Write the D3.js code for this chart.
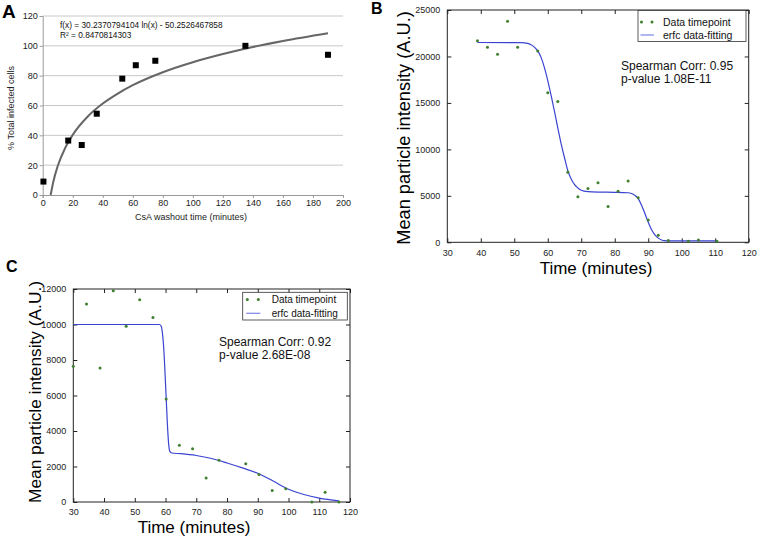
<!DOCTYPE html>
<html><head><meta charset="utf-8">
<script src="https://cdn.jsdelivr.net/npm/d3@7"></script>
<style>
html,body{margin:0;padding:0;background:#fff;}
svg{display:block;}
text{font-family:"Liberation Sans",Arial,sans-serif;}
</style></head>
<body>
<svg id="chart" width="757" height="540"></svg>
<script>
// ---------- Panel A data ----------
const aTime = [0.5, 17, 26, 36, 53, 62, 75, 135, 190];
const aInfected = [9, 36.5, 33.5, 54.5, 78, 87, 90, 100, 94];
const aFitX = [5.3, 7, 10, 15, 20, 30, 40, 50, 60, 80, 100, 120, 140, 160, 190];
const aFitY = [0, 8.6, 19.4, 31.6, 40.3, 52.6, 61.3, 68.0, 73.6, 82.3, 89.0, 94.5, 99.2, 103.2, 108.4];
const aXTicks = [0, 20, 40, 60, 80, 100, 120, 140, 160, 180, 200];
const aYTicks = [0, 20, 40, 60, 80, 100, 120];
const aEquation = "f(x) = 30.2370794104 ln(x) - 50.2526467858";
const aR2 = "R\u00B2 = 0.8470814303";

// ---------- Panel B data ----------
const bTime = [39, 42, 45, 48, 51, 57, 60, 63, 66, 69, 72, 75, 78, 81, 84, 87, 90, 93, 96, 102, 105, 110.5];
const bIntensity = [21700, 21000, 20250, 23800, 21000, 20600, 16100, 15150, 7550, 4900, 5800, 6400, 3850, 5500, 6600, 4800, 2400, 750, 200, 100, 250, 100];
const bFitX = [39, 52, 54, 55, 56, 57, 58, 59, 60, 61, 62, 63, 64, 65, 66, 67, 68, 69, 70, 72, 75, 80, 84, 85, 86, 87, 88, 89, 90, 91, 92, 93, 94, 95, 96, 110.5];
const bFitY = [21500, 21480, 21400, 21250, 21000, 20600, 19900, 18800, 17400, 15800, 14100, 12300, 10600, 9100, 7700, 6800, 6200, 5850, 5600, 5450, 5400, 5380, 5330, 5250, 5050, 4700, 4000, 3100, 2150, 1350, 800, 450, 250, 170, 150, 150];
const bXTicks = [30, 40, 50, 60, 70, 80, 90, 100, 110, 120];
const bYTicks = [0, 5000, 10000, 15000, 20000, 25000];
const bStats = ["Spearman Corr: 0.95", "p-value 1.08E-11"];

// ---------- Panel C data ----------
const cTime = [30, 34.3, 38.7, 43, 47.2, 51.6, 55.9, 60.2, 64.5, 68.8, 73.2, 77.4, 86.1, 90.4, 94.7, 99.1, 107.6, 111.9, 116.4];
const cIntensity = [7650, 11150, 7550, 11900, 9900, 11400, 10400, 5800, 3200, 3000, 1350, 2350, 2150, 1550, 650, 750, 0, 550, 0];
const cFitX = [30, 58, 58.6, 59.0, 59.4, 59.8, 60.2, 60.6, 61.0, 61.4, 62, 65, 70, 75, 80, 85, 90, 95, 100, 105, 110, 116.4];
const cFitY = [10000, 10000, 9900, 9500, 8700, 7400, 5900, 4400, 3300, 2850, 2760, 2720, 2620, 2450, 2200, 1920, 1620, 1180, 720, 420, 220, 60];
const cXTicks = [30, 40, 50, 60, 70, 80, 90, 100, 110, 120];
const cYTicks = [0, 2000, 4000, 6000, 8000, 10000, 12000];
const cStats = ["Spearman Corr: 0.92", "p-value 2.68E-08"];

const legendLabels = ["Data timepoint", "erfc data-fitting"];
const dotColor = "#3f7f2f";
const fitColor = "#3a44d0";

const svg = d3.select("#chart");

// ================= Panel A =================
(function(){
  const L = 42.7, R = 343, T = 16, B = 195;
  const x = d3.scaleLinear().domain([0, 200]).range([L, R]);
  const y = d3.scaleLinear().domain([0, 120]).range([B, T]);
  const g = svg.append("g");

  g.append("g").selectAll("line").data(aYTicks.filter(d => d > 0)).join("line")
    .attr("x1", L).attr("x2", R).attr("y1", d => y(d)).attr("y2", d => y(d))
    .attr("stroke", "#c8c8c8").attr("stroke-width", 1);

  const xAxis = g.append("g").attr("transform", `translate(0,${B})`)
    .call(d3.axisBottom(x).tickValues(aXTicks).tickSize(3).tickPadding(2).tickFormat(d3.format("d")));
  const yAxis = g.append("g").attr("transform", `translate(${L},0)`)
    .call(d3.axisLeft(y).tickValues(aYTicks).tickSize(3).tickPadding(2).tickFormat(d3.format("d")));
  [xAxis, yAxis].forEach(a => {
    a.select(".domain").attr("stroke", "#9a9a9a");
    a.selectAll(".tick line").attr("stroke", "#9a9a9a");
    a.selectAll("text").attr("font-size", "9px").attr("fill", "#222")
      .attr("font-family", "Liberation Sans, Arial, sans-serif");
  });

  const line = d3.line().x(d => x(d[0])).y(d => y(d[1])).curve(d3.curveMonotoneX);
  g.append("path").datum(aFitX.map((v, i) => [v, aFitY[i]]))
    .attr("d", line).attr("fill", "none").attr("stroke", "#666").attr("stroke-width", 2);

  const s = 6;
  g.append("g").selectAll("rect").data(aTime.map((v, i) => [v, aInfected[i]])).join("rect")
    .attr("x", d => x(d[0]) - s / 2).attr("y", d => y(d[1]) - s / 2)
    .attr("width", s).attr("height", s).attr("fill", "#000");

  g.append("text").attr("x", 60).attr("y", 28.3).attr("font-size", "8.3px").attr("fill", "#111").text(aEquation);
  g.append("text").attr("x", 60).attr("y", 37.8).attr("font-size", "8.3px").attr("fill", "#111").text(aR2);

  g.append("text").attr("transform", "translate(14,108) rotate(-90)").attr("text-anchor", "middle")
    .attr("font-size", "9px").attr("fill", "#222").text("% Total infected cells");
  g.append("text").attr("x", 191).attr("y", 220).attr("text-anchor", "middle")
    .attr("font-size", "9px").attr("fill", "#222").text("CsA washout time (minutes)");

  g.append("text").attr("x", 2).attr("y", 17.5).attr("font-size", "19px").attr("font-weight", "bold").text("A");
})();

// ================= Matplotlib-style panels =================
function mplPanel(opts){
  const {L, R, T, B, xDom, yDom, xTicks, yTicks, time, vals, fitX, fitY, stats, letter, legend, ylab, xlab} = opts;
  const x = d3.scaleLinear().domain(xDom).range([L, R]);
  const y = d3.scaleLinear().domain(yDom).range([B, T]);
  const g = svg.append("g");

  const tl = 4;
  const xb = g.append("g").attr("transform", `translate(0,${B})`)
    .call(d3.axisBottom(x).tickValues(xTicks).tickSize(-tl).tickPadding(tl + 3).tickFormat(d3.format("d")));
  const xt = g.append("g").attr("transform", `translate(0,${T})`)
    .call(d3.axisTop(x).tickValues(xTicks).tickSize(-tl).tickFormat(""));
  const yl = g.append("g").attr("transform", `translate(${L},0)`)
    .call(d3.axisLeft(y).tickValues(yTicks).tickSize(-tl).tickPadding(tl + 3).tickFormat(d3.format("d")));
  const yr = g.append("g").attr("transform", `translate(${R},0)`)
    .call(d3.axisRight(y).tickValues(yTicks).tickSize(-tl).tickFormat(""));
  [xb, xt, yl, yr].forEach(a => {
    a.select(".domain").remove();
    a.selectAll(".tick line").attr("stroke", "#222");
    a.selectAll("text").attr("font-size", "9px").attr("fill", "#222")
      .attr("font-family", "Liberation Sans, Arial, sans-serif");
  });
  g.append("rect").attr("x", L).attr("y", T).attr("width", R - L).attr("height", B - T)
    .attr("fill", "none").attr("stroke", "#222").attr("stroke-width", 1);

  const line = d3.line().x(d => x(d[0])).y(d => y(d[1])).curve(d3.curveMonotoneX);
  g.append("path").datum(fitX.map((v, i) => [v, fitY[i]]))
    .attr("d", line).attr("fill", "none").attr("stroke", fitColor).attr("stroke-width", 1.2);

  g.append("g").selectAll("circle").data(time.map((v, i) => [v, vals[i]])).join("circle")
    .attr("cx", d => x(d[0])).attr("cy", d => y(d[1])).attr("r", 1.5).attr("fill", dotColor);

  const lg = legend;
  g.append("rect").attr("x", lg.x0).attr("y", lg.y0).attr("width", lg.x1 - lg.x0).attr("height", lg.y1 - lg.y0)
    .attr("fill", "#fff").attr("stroke", "#333").attr("stroke-width", 0.8);
  [lg.d1, lg.d2].forEach(dx => g.append("circle").attr("cx", dx).attr("cy", lg.r1).attr("r", 1.5).attr("fill", dotColor));
  g.append("line").attr("x1", lg.d1 - 1).attr("x2", lg.d2 + 2).attr("y1", lg.r2).attr("y2", lg.r2)
    .attr("stroke", "#7d84e6").attr("stroke-width", 1.2);
  g.append("text").attr("x", lg.tx).attr("y", lg.r1 + 3.8).attr("font-size", lg.fs).attr("fill", "#111").text(legendLabels[0]);
  g.append("text").attr("x", lg.tx).attr("y", lg.r2 + 3.8).attr("font-size", lg.fs).attr("fill", "#111").text(legendLabels[1]);

  g.append("text").attr("x", stats.x).attr("y", stats.y).attr("font-size", "12px").attr("fill", "#111").text(stats.lines[0]);
  g.append("text").attr("x", stats.x).attr("y", stats.y + 13).attr("font-size", "12px").attr("fill", "#111").text(stats.lines[1]);

  g.append("text").attr("transform", `translate(${ylab.x},${ylab.y}) rotate(-90)`).attr("text-anchor", "middle")
    .attr("dominant-baseline", "central")
    .attr("font-family", "Lato, sans-serif").attr("font-size", ylab.fs).attr("fill", "#000")
    .text("Mean particle intensity (A.U.)");
  g.append("text").attr("x", xlab.x).attr("y", xlab.y).attr("text-anchor", "middle")
    .attr("font-family", "Lato, sans-serif").attr("font-size", xlab.fs).attr("fill", "#000")
    .text("Time (minutes)");
  g.append("text").attr("x", letter.x).attr("y", letter.y).attr("font-size", "16px").attr("font-weight", "bold").text(letter.t);
}

mplPanel({
  L: 447.3, R: 748.7, T: 10, B: 242.3, xDom: [30, 120], yDom: [0, 25000],
  xTicks: bXTicks, yTicks: bYTicks, time: bTime, vals: bIntensity, fitX: bFitX, fitY: bFitY,
  stats: {x: 621, y: 69.5, lines: bStats},
  letter: {x: 371, y: 14, t: "B"},
  legend: {x0: 638, x1: 746, y0: 10.5, y1: 41.5, d1: 641.5, d2: 652, r1: 22, r2: 35, tx: 663, fs: "10.5px"},
  ylab: {x: 404, y: 128, fs: "18.2px"},
  xlab: {x: 596, y: 274, fs: "17px"}
});

mplPanel({
  L: 73.3, R: 350, T: 289, B: 502, xDom: [30, 120], yDom: [0, 12000],
  xTicks: cXTicks, yTicks: cYTicks, time: cTime, vals: cIntensity, fitX: cFitX, fitY: cFitY,
  stats: {x: 219, y: 346, lines: cStats},
  letter: {x: 6, y: 272, t: "C"},
  legend: {x0: 242.7, x1: 347.3, y0: 292.3, y1: 320, d1: 247.3, d2: 258.3, r1: 299.5, r2: 313.3, tx: 271.7, fs: "10px"},
  ylab: {x: 35, y: 392, fs: "17.3px"},
  xlab: {x: 194, y: 533, fs: "17px"}
});
</script>
</body></html>
